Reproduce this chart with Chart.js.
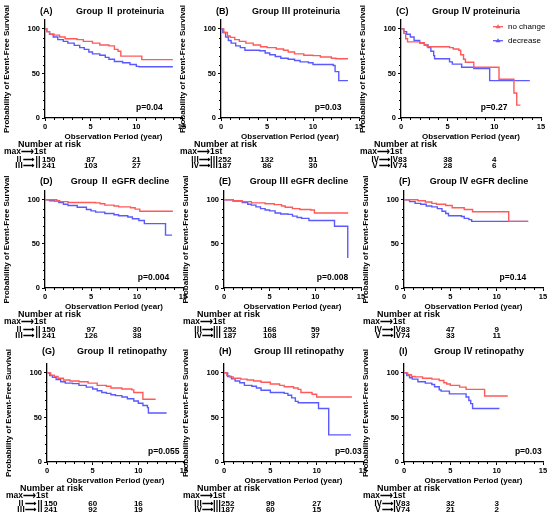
<!DOCTYPE html>
<html><head><meta charset="utf-8">
<script src="https://cdn.jsdelivr.net/npm/chart.js@4"></script>
<style>
html,body{margin:0;padding:0;background:#fff;}
#wrap{position:relative;width:550px;height:519px;overflow:hidden;background:#fff;}
#wrap canvas{position:absolute;}
</style></head><body><div id="wrap"></div>
<script>
// ---------- data ----------
const A_nc = [[0,100],[0.2,97],[0.5,94],[1,93],[1.6,91],[2.2,89],[3.5,88],[4.2,86],[5.2,84],[6,82],[7,81],[7.6,77],[8,75],[8.3,69.5],[10.6,65.5],[14,65.5]];
const A_dec = [[0,100],[0.2,97],[0.5,94],[0.9,91],[1.4,88],[2,86],[2.5,84],[3.2,81.5],[3.8,79],[4.3,77],[4.8,74],[5.2,72],[6,70.5],[6.6,68],[7,66],[7.6,63.5],[8.5,62],[9.3,60],[10,58],[10.3,57.5],[14,57.5]];
const B_nc = [[0,100],[0.3,96],[0.7,92],[1,90.5],[1.5,88],[2,86],[2.7,84],[3.5,82],[4.3,80],[5,79],[6,77.5],[6.8,76],[7.3,74],[8,72],[9,70.5],[10,70],[10.8,68.5],[12,67],[12.5,66.5],[13.8,66.5]];
const B_dec = [[0,100],[0.2,96],[0.5,91],[0.8,87],[1.1,84],[1.6,81],[2.1,79],[2.6,76],[4.2,75.5],[4.8,73],[5.3,71],[5.9,69],[6.5,67],[7.3,66],[8,64.5],[8.6,63],[9.5,62],[10,60],[12.2,59],[12.4,52],[12.8,42],[13.8,42]];
const C_nc = [[0,100],[0.3,95],[0.5,89],[0.7,85.5],[2,84.5],[2.5,82],[2.8,80],[5.2,79],[5.6,77.5],[6.2,76],[6.4,71],[6.7,66],[6.9,62.5],[7.8,57],[10.5,43.5],[12.1,28],[12.4,14.5],[12.8,14.5]];
const C_dec = [[0,100],[0.3,97],[0.6,94],[1,91],[1.4,87],[2,84],[2.5,82],[2.9,79],[3.2,75],[3.5,70],[3.6,66.5],[5.2,63],[5.5,60.5],[6.5,57],[7.8,55.5],[9.5,42],[13.8,42]];
const D_nc = [[0,100],[1.3,99],[1.6,98],[2.5,97],[5.5,96.5],[6,95.5],[6.5,94],[7.5,93],[8,92],[9.3,91],[9.8,89.5],[10.3,87],[13.9,87]];
const D_dec = [[0,100],[0.5,99],[1,98.5],[1.5,97],[2,95],[2.5,93.5],[3.5,91.5],[4.5,89],[5,87.5],[5.5,86],[6.5,84.5],[7.5,83],[8,82],[9,80.5],[9.5,78.5],[10.2,76.5],[10.8,73],[13.1,60],[13.8,60]];
const E_nc = [[0,100],[1,99],[2,98],[3,96.5],[4.5,95.5],[5.5,94.5],[6.3,93],[6.7,91.5],[7.5,90],[8.3,89],[9.5,88.5],[9.9,85],[13.6,85]];
const E_dec = [[0,100],[1,98.5],[2,97],[2.6,95],[3,94],[3.5,92],[4,90],[4.5,88.5],[5,87.5],[5.6,85],[6.2,84],[7,83.5],[7.5,81.5],[8,80],[8.5,79],[9.3,76.5],[12.1,70],[13.55,34]];
const F_nc = [[0,100],[1.5,99],[2.3,97.5],[3,96],[3.5,95],[4.5,93.5],[5.2,91],[6.5,89],[7.4,86.5],[11.3,75.5],[13.4,75.5]];
const F_dec = [[0,100],[0.6,98],[1.2,96],[1.8,95],[2.4,93],[3,92],[3.6,90],[4.1,87],[4.5,84.5],[4.8,82],[6.2,81],[6.5,79],[7,77.5],[7.3,75.5],[13.4,75.5]];
const G_nc = [[0,100],[0.4,97.5],[0.8,96],[1.2,94],[1.8,92],[2.5,91],[3.5,90],[4.5,88.5],[5.5,86],[6.5,85],[7,83],[8.2,82],[9.3,81],[9.5,78],[10.5,70.5],[11.9,70.5]];
const G_dec = [[0,100],[0.3,97],[0.6,95],[1,92.5],[1.5,90],[2,88.5],[2.8,88],[3.5,86],[4.3,84],[5,82],[5.5,80],[6,78],[6.5,77],[7,75.5],[7.5,74.5],[8.2,73],[8.8,71],[9.5,68.5],[10,66],[10.5,63.5],[11,61],[11.1,55],[13.1,55]];
const H_nc = [[0,100],[0.3,97],[0.6,95.5],[1,94],[1.8,93],[2.5,92],[3.2,91],[4,89.5],[5,87.5],[6,86],[6.5,84.5],[7.5,83],[8,81.5],[8.3,78],[9.5,76],[10,73],[13.8,73]];
const H_dec = [[0,100],[0.4,96],[0.8,93.5],[1.2,91],[1.7,89],[2.2,86],[3,85],[3.5,83],[4,80.5],[5,78],[6.5,77],[6.9,75],[7.3,72],[7.7,68],[8,66.5],[10.2,60],[11.3,30.5],[13.7,30.5]];
const I_nc = [[0,100],[0.4,98],[0.8,96],[1.2,95.5],[2,94],[3,93],[3.8,91.5],[4.3,89],[4.6,87.5],[5,86],[6,84],[6.7,81.5],[8.7,74],[11.2,74]];
const I_dec = [[0,100],[0.3,97],[0.6,94.5],[0.9,93],[1.5,90],[2.3,88.5],[3,87],[3.3,84.5],[3.8,81],[4,79.5],[4.9,76.5],[6.7,73],[7,69],[7.2,65.5],[7.4,60],[10.3,60]];

const panelLetters = ['(A)','(B)','(C)','(D)','(E)','(F)','(G)','(H)','(I)'];
const panelTitles = ['Group Ⅱ proteinuria','Group Ⅲ proteinuria','Group Ⅳ proteinuria',
  'Group Ⅱ eGFR decline','Group Ⅲ eGFR decline','Group Ⅳ eGFR decline',
  'Group Ⅱ retinopathy','Group Ⅲ retinopathy','Group Ⅳ retinopathy'];
const pTexts = ['p=0.04','p=0.03','p=0.27','p=0.004','p=0.008','p=0.14','p=0.055','p=0.03','p=0.03'];
const seriesNames = ['no change','decrease'];
const riskLabel1 = ['Ⅱ⟶Ⅱ150','Ⅲ⟶Ⅲ252','Ⅳ⟶Ⅳ83','Ⅱ⟶Ⅱ150','Ⅲ⟶Ⅲ 252','Ⅳ⟶Ⅳ83','Ⅱ⟶Ⅱ150','Ⅲ⟶Ⅲ252','Ⅳ⟶Ⅳ83'];
const riskLabel2 = ['Ⅲ⟶Ⅱ241','Ⅳ⟶Ⅲ187','Ⅴ⟶Ⅳ74','Ⅲ⟶Ⅱ241','Ⅳ⟶Ⅲ 187','Ⅴ⟶Ⅳ74','Ⅲ⟶Ⅱ241','Ⅳ⟶Ⅲ187','Ⅴ⟶Ⅳ74'];
const risk1_at5 = [87,132,38,97,166,47,60,99,32];
const risk1_at10 = [21,51,4,30,59,9,16,27,3];
const risk2_at5 = [103,86,28,126,108,33,92,60,21];
const risk2_at10 = [27,30,6,38,37,11,19,15,2];
const xTickValues = [0,5,10,15];
const yTickValues = [0,50,100];

const noChangeSeries = [A_nc,B_nc,C_nc,D_nc,E_nc,F_nc,G_nc,H_nc,I_nc];
const decreaseSeries = [A_dec,B_dec,C_dec,D_dec,E_dec,F_dec,G_dec,H_dec,I_dec];

// ---------- layout (pixels) ----------
const geom = [
 {x0:45,x15:182,row:0},{x0:221,x15:359,row:0},{x0:401,x15:541,row:0},
 {x0:45,x15:183,row:1},{x0:224,x15:361,row:1},{x0:404,x15:543,row:1},
 {x0:47,x15:184,row:2},{x0:224,x15:363,row:2},{x0:404,x15:543,row:2}];
const rowsG = [{top:0,yTop:20,y0:118,titleY:12,h:174},{top:171,yTop:191,y0:288,titleY:181.5,h:174},{top:344,yTop:364,y0:462,titleY:351.5,h:175}];
const pPosYears = [12.9,13.1,11.4,13.5,13.6,13.2,14.5,14.85,14.85];
const RED = '#ff5a5a', BLUE = '#5a5aff';
const FF = "'Liberation Sans', Arial, 'Noto Sans CJK JP', sans-serif";
const Y_W = 45, X_H = 24, RPAD = 14;

const deco = {
  id: 'deco',
  afterDraw(chart, args, o) {
    const i = o.idx, g = geom[i], r = rowsG[g.row];
    const ctx = chart.ctx, xs = chart.scales.x, ys = chart.scales.y;
    const x0 = xs.getPixelForValue(0), y0 = ys.getPixelForValue(0), yTop = chart.chartArea.top;
    ctx.save();
    ctx.fillStyle = '#000'; ctx.strokeStyle = '#000'; ctx.lineWidth = 1;
    // minor ticks
    ctx.beginPath();
    for (let t = 1; t < 15; t++) { if (t % 5 === 0) continue; const px = Math.round(xs.getPixelForValue(t)) + 0.5; ctx.moveTo(px, y0); ctx.lineTo(px, y0 + 2); }
    for (let v = 10; v < 100; v += 10) { if (v % 50 === 0) continue; const py = Math.round(ys.getPixelForValue(v)) + 0.5; ctx.moveTo(x0 - 2, py); ctx.lineTo(x0, py); }
    ctx.stroke();
    // titles
    const ty = r.titleY - r.top;
    ctx.textBaseline = 'middle';
    ctx.font = `bold 9px ${FF}`;
    ctx.textAlign = 'left'; ctx.fillText(panelLetters[i], x0 - 5, ty);
    ctx.textAlign = 'center'; ctx.fillText(panelTitles[i], x0 + 75, ty);
    // p value
    ctx.font = `bold 8.5px ${FF}`;
    ctx.textAlign = 'right'; ctx.fillText(pTexts[i], xs.getPixelForValue(pPosYears[i]), y0 - 10);
    // risk table
    ctx.textAlign = 'left';
    ctx.font = `bold 9px ${FF}`; ctx.fillText('Number at risk', x0 - 27, y0 + 27);
    ctx.font = `bold 8.5px ${FF}`; ctx.fillText('max⟶1st', x0 - 41, y0 + 34);
    ctx.font = `bold 8px ${FF}`;
    ctx.fillText(riskLabel1[i], x0 - 30, y0 + 41.3);
    ctx.fillText(riskLabel2[i], x0 - 30, y0 + 47.7);
    ctx.textAlign = 'center';
    const p5 = xs.getPixelForValue(5), p10 = xs.getPixelForValue(10);
    ctx.fillText(String(risk1_at5[i]), p5, y0 + 41.3);
    ctx.fillText(String(risk1_at10[i]), p10, y0 + 41.3);
    ctx.fillText(String(risk2_at5[i]), p5, y0 + 47.7);
    ctx.fillText(String(risk2_at10[i]), p10, y0 + 47.7);
    // legend (panel C)
    if (o.legend) {
      const ds = chart.data.datasets;
      ds.forEach((d, k) => {
        const ly = yTop + 6.7 + k * 14;
        const lx = x0 + 92;
        ctx.strokeStyle = d.borderColor; ctx.fillStyle = d.borderColor; ctx.lineWidth = 1.3;
        ctx.beginPath(); ctx.moveTo(lx, ly); ctx.lineTo(lx + 10, ly); ctx.stroke();
        ctx.beginPath(); ctx.moveTo(lx + 5, ly - 2.5); ctx.lineTo(lx + 7.5, ly + 1.5); ctx.lineTo(lx + 2.5, ly + 1.5); ctx.closePath(); ctx.fill();
        ctx.fillStyle = '#000'; ctx.font = `8px ${FF}`; ctx.textAlign = 'left';
        ctx.fillText(d.label, x0 + 107, ly);
      });
    }
    ctx.restore();
  }
};

const wrap = document.getElementById('wrap');
geom.forEach((g, i) => {
  const r = rowsG[g.row];
  const cv = document.createElement('canvas');
  const w = (g.x15 - g.x0) + Y_W + RPAD, h = r.h;
  cv.width = w; cv.height = h;
  cv.style.left = (g.x0 - Y_W) + 'px'; cv.style.top = r.top + 'px';
  cv.style.width = w + 'px'; cv.style.height = h + 'px';
  wrap.appendChild(cv);
  const toPts = arr => arr.map(p => ({x: p[0], y: p[1]}));
  new Chart(cv, {
    type: 'line',
    data: { datasets: [
      { label: seriesNames[0], data: toPts(noChangeSeries[i]), borderColor: RED, backgroundColor: RED, borderWidth: 1.4, stepped: true, pointRadius: 0, fill: false },
      { label: seriesNames[1], data: toPts(decreaseSeries[i]), borderColor: BLUE, backgroundColor: BLUE, borderWidth: 1.4, stepped: true, pointRadius: 0, fill: false }
    ]},
    options: {
      responsive: false, animation: false, devicePixelRatio: window.devicePixelRatio || 1,
      layout: { padding: { left: 0, top: r.yTop - r.top, right: RPAD, bottom: h - (r.y0 - r.top) - X_H } },
      plugins: { legend: { display: false }, tooltip: { enabled: false }, title: { display: false }, deco: { idx: i, legend: i === 2 } },
      scales: {
        x: {
          type: 'linear', min: 0, max: 15,
          afterBuildTicks: s => { s.ticks = xTickValues.map(v => ({value: v})); },
          afterFit: s => { s.height = X_H; s.paddingLeft = 0; s.paddingRight = 0; },
          ticks: { color: '#000', font: { family: FF, size: 7.5, weight: 'bold' }, padding: 1, maxRotation: 0, autoSkip: false },
          grid: { drawOnChartArea: false, drawTicks: true, tickLength: 3, color: '#000', lineWidth: 1 },
          border: { display: true, color: '#000', width: 1.3 },
          title: { display: true, text: 'Observation Period (year)', color: '#000', font: { family: FF, size: 8, weight: 'bold' }, padding: { top: 0, bottom: 0 } }
        },
        y: {
          type: 'linear', min: 0, max: 110,
          afterBuildTicks: s => { s.ticks = yTickValues.map(v => ({value: v})); },
          afterFit: s => { s.width = Y_W; s.paddingTop = 0; s.paddingBottom = 0; },
          ticks: { color: '#000', font: { family: FF, size: 7.5, weight: 'bold' }, padding: 2, autoSkip: false },
          grid: { drawOnChartArea: false, drawTicks: true, tickLength: 3, color: '#000', lineWidth: 1 },
          border: { display: true, color: '#000', width: 1.3 },
          title: { display: true, text: 'Probability of Event-Free Survival', color: '#000', font: { family: FF, size: 8, weight: 'bold' }, padding: { top: 2, bottom: 0 } }
        }
      }
    },
    plugins: [deco]
  });
});
</script></body></html>
